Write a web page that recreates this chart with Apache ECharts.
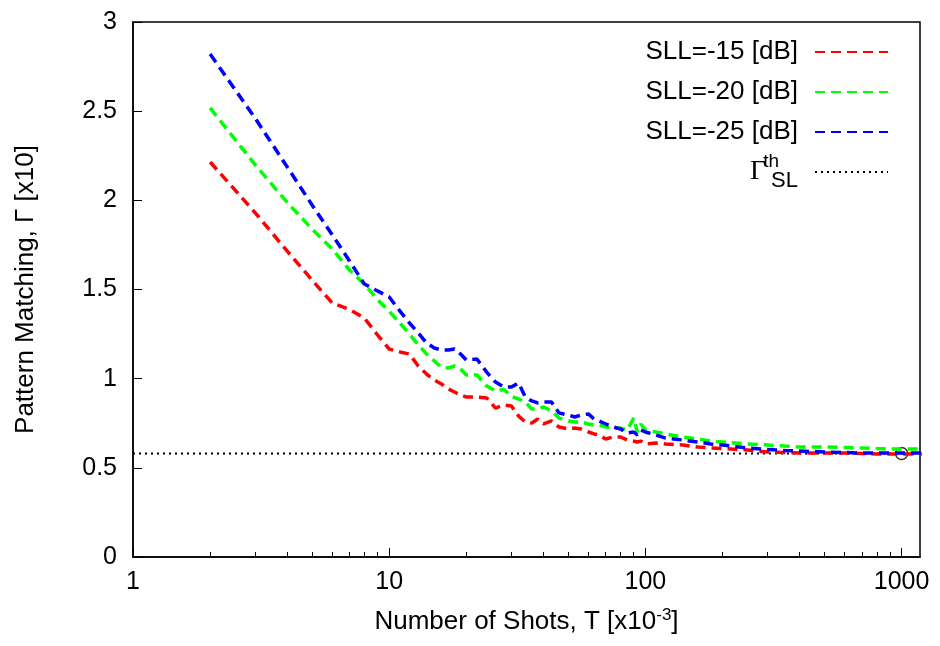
<!DOCTYPE html>
<html>
<head>
<meta charset="utf-8">
<style>
  html, body { margin: 0; padding: 0; background: #fff; }
  #chart { width: 940px; height: 646px; }
</style>
<script src="https://cdn.jsdelivr.net/npm/echarts@6/dist/echarts.min.js"></script>
</head>
<body>
<div id="chart"></div>
<script>
// ---- data ----
const T = [2,3,4,5,6,7,8,9,10,
  11,12,13,14,15,16,17,18,19,20,
  22,24,26,28,30,32,34,36,38,40,
  43,46,50,53,56,60,63,66,70,75,80,85,90,93,96,100,
  110,120,140,160,180,200,250,300,350,400,
  500,600,700,800,900,1000,1200];

const sll15 = [2.215,1.93,1.715,1.553,1.424,1.388,1.34,1.245,1.166,
  1.15,1.138,1.07,1.026,0.992,0.97,0.942,0.925,0.908,0.897,
  0.897,0.892,0.835,0.852,0.847,0.79,0.757,0.751,0.774,0.746,
  0.763,0.729,0.718,0.723,0.718,0.701,0.69,0.684,0.662,0.673,0.673,0.656,0.65,0.645,0.65,0.634,
  0.639,0.634,0.628,0.617,0.611,0.608,0.6,0.589,0.586,0.583,
  0.583,0.583,0.58,0.578,0.578,0.578,0.578];

const sll20 = [2.518,2.199,1.988,1.839,1.727,1.609,1.531,1.443,1.378,
  1.312,1.25,1.189,1.138,1.099,1.065,1.06,1.071,1.054,1.021,
  1.021,0.959,0.931,0.94,0.9,0.886,0.869,0.83,0.83,0.841,
  0.819,0.779,0.763,0.757,0.757,0.746,0.74,0.74,0.729,0.723,0.723,0.712,0.779,0.701,0.746,0.712,
  0.701,0.69,0.673,0.662,0.65,0.645,0.634,0.628,0.622,0.617,
  0.617,0.614,0.611,0.608,0.606,0.606,0.606];

const sll25 = [2.82,2.46,2.187,1.974,1.806,1.66,1.531,1.492,1.458,
  1.38,1.312,1.256,1.2,1.172,1.161,1.161,1.166,1.138,1.105,
  1.11,1.037,0.981,0.953,0.953,0.976,0.897,0.875,0.864,0.869,
  0.869,0.808,0.796,0.785,0.796,0.802,0.774,0.763,0.746,0.729,0.718,0.695,0.701,0.684,0.712,0.701,
  0.684,0.667,0.656,0.645,0.634,0.628,0.611,0.603,0.597,0.594,
  0.589,0.586,0.583,0.583,0.583,0.583,0.583];

const thresholdValue = 0.58;
const thresholdT = [1, 1200];
const markerPoint = [1000, 0.58];

const xMajorTicks = [1, 10, 100, 1000];
const xMinorTicks = [2,3,4,5,6,7,8,9,20,30,40,50,60,70,80,90,200,300,400,500,600,700,800,900];

const seriesNames = ['SLL=-15 [dB]', 'SLL=-20 [dB]', 'SLL=-25 [dB]'];
const thName = 'GammaTh';

// ---- chart ----
const FONT = 'Liberation Sans, Arial, Helvetica, sans-serif';
const chart = echarts.init(document.getElementById('chart'), null, { renderer: 'canvas' });

function pairs(xs, ys) { return xs.map((x, i) => [x, ys[i]]); }

const dash = [10, 6];
const option = {
  animation: false,
  backgroundColor: '#ffffff',
  textStyle: { fontFamily: FONT },
  grid: {
    left: 133, right: 20, top: 22, bottom: 89,
    show: true, borderColor: '#000', borderWidth: 1.5, backgroundColor: 'transparent'
  },
  legend: {
    orient: 'vertical',
    right: 46,
    top: 27,
    align: 'right',
    itemWidth: 73,
    itemHeight: 14,
    itemGap: 0,
    selectedMode: false,
    itemStyle: { opacity: 0 },
    data: seriesNames.concat([thName]),
    formatter: function (name) {
      if (name === thName) return '{g|\u0393}{th|th}{sl|SL}';
      return name;
    },
    textStyle: {
      fontFamily: FONT,
      fontSize: 26,
      color: '#000',
      lineHeight: 40,
      padding: [0, 12, 0, 0],
      rich: {
        g: { fontFamily: 'Liberation Serif, DejaVu Serif, serif', fontSize: 28, color: '#000', lineHeight: 40, padding: [0, 5, 0, 0] },
        th: { fontFamily: FONT, fontSize: 19, color: '#000', width: 0, align: 'left', verticalAlign: 'top', lineHeight: 18 },
        sl: { fontFamily: FONT, fontSize: 22, color: '#000', align: 'left', verticalAlign: 'bottom', lineHeight: 18 }
      }
    }
  },
  xAxis: [
    {
      type: 'log', logBase: 10, min: 1, max: 1180,
      position: 'bottom',
      name: '{a|Number of Shots, T [x10}{s|-3}{a|]}',
      nameLocation: 'middle',
      nameGap: 50,
      nameTextStyle: {
        rich: {
          a: { fontFamily: FONT, fontSize: 26, color: '#000' },
          s: { fontFamily: FONT, fontSize: 17, color: '#000', verticalAlign: 'top', padding: [0, 0, 12, 0] }
        }
      },
      axisLine: { show: true, lineStyle: { color: '#000', width: 1.5 } },
      axisTick: { show: true, inside: true, length: 9, customValues: xMajorTicks, lineStyle: { color: '#000', width: 1 } },
      axisLabel: {
        customValues: xMajorTicks, fontFamily: FONT, fontSize: 25, color: '#000', margin: 13,
        formatter: function (v) { return String(Math.round(v)); }
      },
      splitLine: { show: false },
      minorTick: { show: false }
    },
    {
      type: 'log', logBase: 10, min: 1, max: 1180,
      position: 'bottom',
      axisLine: { show: false },
      axisTick: { show: true, inside: true, length: 5, customValues: xMinorTicks, lineStyle: { color: '#000', width: 1 } },
      axisLabel: { show: false },
      splitLine: { show: false }
    }
  ],
  yAxis: {
    type: 'value', min: 0, max: 3, interval: 0.5,
    name: 'Pattern Matching, \u0393 [x10]',
    nameLocation: 'middle',
    nameGap: 94,
    nameTextStyle: { fontFamily: FONT, fontSize: 26, color: '#000' },
    axisLine: { show: true, lineStyle: { color: '#000', width: 1.5 } },
    axisTick: { show: true, inside: true, length: 9, lineStyle: { color: '#000', width: 1 } },
    axisLabel: { fontFamily: FONT, fontSize: 25, color: '#000', margin: 16 },
    splitLine: { show: false }
  },
  series: [
    {
      name: thName, type: 'line', symbol: 'none', silent: true,
      data: thresholdT.map(t => [t, thresholdValue]),
      lineStyle: { color: '#000', width: 2, type: [2, 4] },
      itemStyle: { color: '#000' }
    },
    {
      name: seriesNames[0], type: 'line', symbol: 'none', silent: true,
      data: pairs(T, sll15),
      lineStyle: { color: '#ff0000', width: 3.5, type: dash },
      itemStyle: { color: '#ff0000' }
    },
    {
      name: seriesNames[1], type: 'line', symbol: 'none', silent: true,
      data: pairs(T, sll20),
      lineStyle: { color: '#00ff00', width: 3.5, type: dash },
      itemStyle: { color: '#00ff00' }
    },
    {
      name: seriesNames[2], type: 'line', symbol: 'none', silent: true,
      data: pairs(T, sll25),
      lineStyle: { color: '#0000ff', width: 3.5, type: dash },
      itemStyle: { color: '#0000ff' }
    },
    {
      name: 'marker', type: 'scatter', silent: true,
      data: [markerPoint],
      symbol: 'circle', symbolSize: 12,
      itemStyle: { color: 'transparent', borderColor: '#000', borderWidth: 1.5 }
    }
  ]
};
chart.setOption(option);
</script>
</body>
</html>
